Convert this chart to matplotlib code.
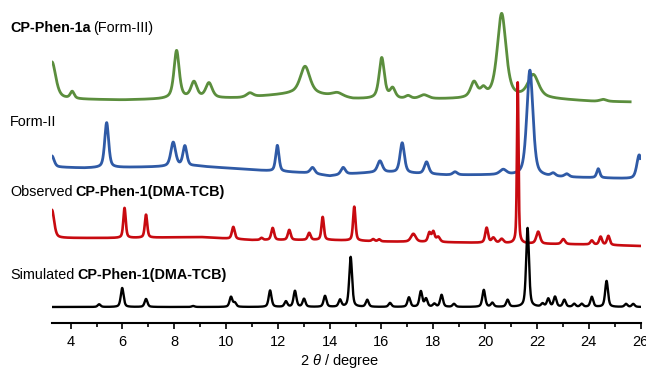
import numpy as np
import matplotlib
matplotlib.use("Agg")
import matplotlib.pyplot as plt

plt.rcParams["font.family"] = ["Liberation Sans", "DejaVu Sans"]
plt.rcParams["mathtext.fontset"] = "custom"
plt.rcParams["mathtext.rm"] = "Liberation Sans"
plt.rcParams["mathtext.it"] = "Liberation Sans:italic"

# ---- peak tables: position (deg 2theta), height (a.u.), FWHM (deg) ----
# CP-Phen-1a (Form-III)
green_pos = [3.28, 4.06, 8.09, 8.76, 9.34, 10.92, 13.05, 14.30, 16.01, 16.43, 17.03,
             17.64, 19.57, 19.93, 20.64, 21.86, 24.56]
green_hgt = [37, 7, 48, 16, 15, 4, 28, 4, 41, 10, 3, 4, 15, 7, 84, 23, 2]
green_fwhm = [0.35, 0.18, 0.24, 0.28, 0.3, 0.3, 0.45, 0.5, 0.24, 0.24, 0.25, 0.4, 0.3,
              0.24, 0.4, 0.5, 0.3]
green_base_x = [3.28, 6, 8, 10.5, 12.5, 13.6, 14.9, 17.2, 19, 20, 22.5, 24.2, 25.6]
green_base_y = [224, 223, 224, 225, 229, 228, 224, 223.5, 224, 225, 224, 221.5, 221]
green_end = 25.6

# Form-II
blue_pos = [3.28, 5.39, 7.96, 8.41, 11.98, 13.34, 14.52, 15.94, 16.80, 17.74, 18.84,
            20.70, 21.73, 22.63, 23.15, 24.37, 25.95]
blue_hgt = [11, 45, 24, 20, 26, 6, 7, 11, 30, 12, 3, 5, 106, 3, 3, 9, 24]
blue_fwhm = [0.2, 0.18, 0.22, 0.18, 0.15, 0.2, 0.2, 0.22, 0.2, 0.2, 0.2, 0.3, 0.28,
             0.2, 0.2, 0.14, 0.22]
blue_base_x = [3.28, 4.5, 7, 8.8, 10, 11.7, 13.2, 14, 14.7, 16, 18.5, 20.5, 22.5, 24.5, 26]
blue_base_y = [156, 155, 156, 157, 155, 152, 150, 147, 149, 151, 148, 148, 146, 145, 144]

# Observed CP-Phen-1(DMA-TCB)
red_pos = [3.28, 6.08, 6.91, 10.28, 11.37, 11.80, 12.44, 13.21, 13.73, 14.95, 15.68,
           15.91, 17.23, 17.85, 18.00, 18.19, 20.06, 20.32, 20.64, 21.26, 22.05, 23.02,
           24.12, 24.46, 24.76]
red_hgt = [28, 30, 23, 12, 2, 12, 10, 7, 23, 34, 2, 2, 8, 9, 10, 5, 15, 5, 4, 161, 12,
           5, 4, 8, 9]
red_fwhm = [0.2, 0.11, 0.11, 0.13, 0.12, 0.13, 0.13, 0.13, 0.11, 0.11, 0.12, 0.12, 0.22,
            0.13, 0.13, 0.16, 0.13, 0.16, 0.16, 0.07, 0.17, 0.16, 0.13, 0.13, 0.13]
red_base_x = [3.28, 6, 9, 11, 14, 16, 19, 22.5, 24, 26]
red_base_y = [85, 85, 86, 83, 83, 81.5, 80.5, 79, 78.5, 77]

# Simulated CP-Phen-1(DMA-TCB)
black_pos = [5.10, 5.99, 6.91, 8.73, 10.19, 10.34, 11.70, 12.31, 12.66, 13.01, 13.82,
             14.40, 14.81, 15.45, 16.33, 17.06, 17.52, 17.72, 18.04, 18.32, 18.80, 19.95,
             20.28, 20.87, 21.64, 22.22, 22.44, 22.70, 23.06, 23.44, 23.73, 24.12, 24.69,
             25.44, 25.72]
black_hgt = [2.7, 19, 8, 1, 10, 4, 16.5, 5.5, 16, 8, 11, 7, 50, 7, 4, 9.5, 15.5, 8, 3,
             12, 3, 17, 4, 7, 79, 3, 8, 10, 7, 3, 3, 10, 26, 3, 3]
black_fwhm = [0.13] * len(black_pos)
black_base_x = [3.28, 26]
black_base_y = [16, 16]

x_min, x_max = 3.28, 26.0
x_ticks = [4, 6, 8, 10, 12, 14, 16, 18, 20, 22, 24, 26]

GREEN = "#5B8E3D"
BLUE = "#2F5AA6"
RED = "#C80A10"
BLACK = "#000000"


def pattern(x, pos, hgt, fwhm, base_x, base_y, eta=0.5):
    """Pseudo-Voigt peak sum on top of a piecewise-linear background."""
    y = np.interp(x, base_x, base_y).astype(float)
    for p, h, w in zip(pos, hgt, fwhm):
        d = (x - p) / (w / 2.0)
        y += h * (eta / (1.0 + d ** 2) + (1.0 - eta) * np.exp(-np.log(2.0) * d ** 2))
    return y


W, H = 646, 369
fig = plt.figure(figsize=(W / 100, H / 100), dpi=100)
ax = fig.add_axes([52 / W, 46 / H, 588.5 / W, 323 / H])

x_full = np.linspace(x_min, x_max, 5000)
x_green = np.linspace(x_min, green_end, 5000)

ax.plot(x_green, pattern(x_green, green_pos, green_hgt, green_fwhm,
                         green_base_x, green_base_y, eta=0.6),
        color=GREEN, lw=2.0, zorder=2)
ax.plot(x_full, pattern(x_full, blue_pos, blue_hgt, blue_fwhm,
                        blue_base_x, blue_base_y),
        color=BLUE, lw=2.0, zorder=3)
ax.plot(x_full, pattern(x_full, red_pos, red_hgt, red_fwhm,
                        red_base_x, red_base_y),
        color=RED, lw=1.9, zorder=4)
ax.plot(x_full, pattern(x_full, black_pos, black_hgt, black_fwhm,
                        black_base_x, black_base_y),
        color=BLACK, lw=1.7, zorder=5)

ax.set_xlim(x_min, x_max)
ax.set_ylim(0, 323)
for side in ("left", "right", "top"):
    ax.spines[side].set_visible(False)
ax.spines["bottom"].set_linewidth(1.5)
ax.spines["bottom"].set_color("black")
ax.set_yticks([])
ax.set_xticks(x_ticks)
ax.set_xticks(np.arange(5, 26, 2), minor=True)
ax.tick_params(axis="x", which="major", direction="out", length=4.5, width=1.2,
               labelsize=10.5, pad=4, colors="black")
ax.tick_params(axis="x", which="minor", direction="out", length=3, width=1.2)
ax.patch.set_alpha(0)

# axis title
fig.text(340 / W, 1 - 365.5 / H, r"2 $\it{\theta}$ / degree", fontsize=10.5,
         ha="center", va="baseline")

# series labels with mixed weights
renderer = fig.canvas.get_renderer()
FS = 10.4


def label_row(x_px, base_px, parts):
    x = x_px
    for s, weight in parts:
        t = fig.text(x / W, 1 - base_px / H, s, fontsize=FS, fontweight=weight,
                     ha="left", va="baseline")
        bb = t.get_window_extent(renderer=renderer)
        x = bb.x1 + 0.2 * FS * 100 / 72


label_row(10, 32, [("CP-Phen-1a", "bold"), ("(Form-III)", "normal")])
label_row(10, 126, [("Form-II", "normal")])
label_row(10, 195.5, [("Observed", "normal"), ("CP-Phen-1(DMA-TCB)", "bold")])
label_row(10, 279, [("Simulated", "normal"), ("CP-Phen-1(DMA-TCB)", "bold")])

fig.savefig("out.png", dpi=100)
